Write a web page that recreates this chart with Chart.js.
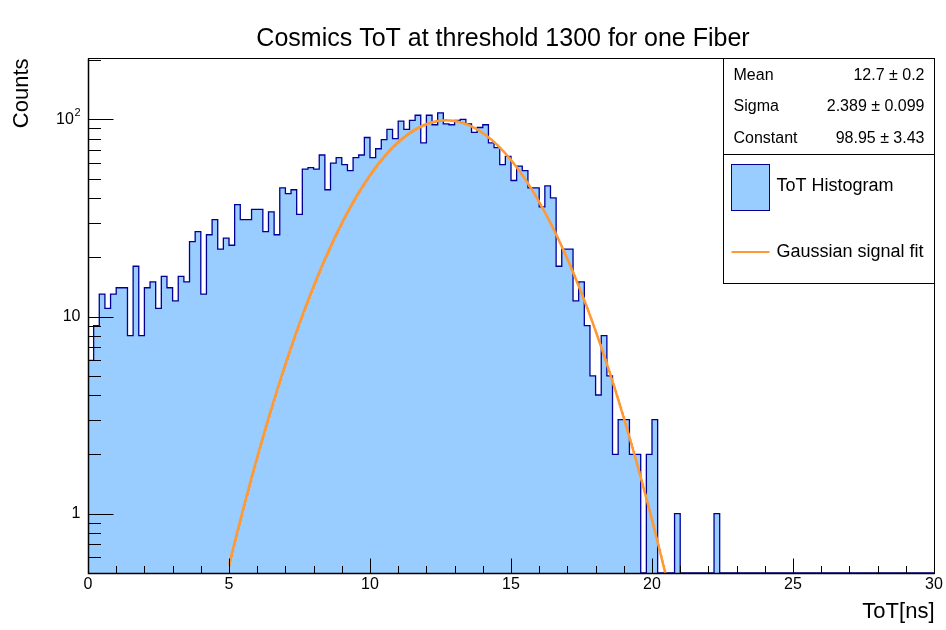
<!DOCTYPE html>
<html>
<head>
<meta charset="utf-8">
<title>Cosmics ToT</title>
<script src="https://cdn.jsdelivr.net/npm/chart.js@4.4.1/dist/chart.umd.min.js"></script>
<style>
  html, body { margin: 0; padding: 0; background: #fff; }
  #totChart { display: block; }
</style>
</head>
<body>
<canvas id="totChart" width="946" height="630"></canvas>
<script>
// ToT histogram: 150 bins of 0.2 ns from 0 to 30 ns
const binLow = 0;
const binWidth = 0.2;
const binCounts = [
    6, 9, 13, 11, 13, 14, 14, 8, 18, 8,
    14, 15, 11, 16, 14, 12, 16, 15, 24, 27,
    13, 26, 31, 22, 25, 23, 37, 31, 31, 35,
    35, 27, 34, 26, 45, 42, 44, 33, 56, 57,
    56, 66, 44, 60, 64, 59, 55, 64, 66, 81,
    64, 71, 79, 89, 80, 98, 89, 99, 105, 76,
    105, 94, 108, 95, 94, 99, 100, 95, 86, 91,
    94, 76, 72, 59, 65, 49, 58, 55, 45, 45,
    36, 46, 40, 18, 22, 22, 12, 15, 9, 5,
    4, 8, 5, 2, 3, 3, 2, 2, 0, 2,
    3, 0, 0, 0, 1, 0, 0, 0, 0, 0,
    0, 1, 0, 0, 0, 0, 0, 0, 0, 0,
    0, 0, 0, 0, 0, 0, 0, 0, 0, 0,
    0, 0, 0, 0, 0, 0, 0, 0, 0, 0,
    0, 0, 0, 0, 0, 0, 0, 0, 0, 0
];

// gaussian fit result
const fitConstant = 98.95;
const fitMean = 12.7;
const fitSigma = 2.389;
const fitRange = [5, 21];

const statNames = ['Mean', 'Sigma', 'Constant'];
const statValues = ['12.7 \u00b1 0.2', '2.389 \u00b1 0.099', '98.95 \u00b1 3.43'];

const xMin = 0, xMax = 30;
const yMin = 0.5, yMax = 205;
const xTicks = [0, 5, 10, 15, 20, 25, 30];
const yTicks = [1, 10, 100];
const yTickLabels = ['1', '10', '10^2'];

const histFill = 'rgb(153, 204, 255)';
const histLine = 'rgb(0, 0, 153)';
const fitColor = 'rgb(255, 153, 51)';
const FONT = "'Liberation Sans', Arial, Helvetica, sans-serif";

// empty bins sit on the bottom of the log axis
const histPoints = binCounts.map((c, i) => ({ x: binLow + i * binWidth, y: Math.max(c, yMin) }));
histPoints.push({ x: binLow + binCounts.length * binWidth, y: Math.max(binCounts[binCounts.length - 1], yMin) });

const fitPoints = [];
for (let i = 0; fitRange[0] + i * 0.02 <= fitRange[1] + 1e-9; i++) {
    const x = fitRange[0] + i * 0.02;
    fitPoints.push({ x: x, y: fitConstant * Math.exp(-0.5 * Math.pow((x - fitMean) / fitSigma, 2)) });
}

// frame, inward ticks, labels, stats box and legend
const rootFrame = {
    id: 'rootFrame',
    afterDraw(chart) {
        const ctx = chart.ctx;
        const area = chart.chartArea;
        const xs = chart.scales.x;
        const ys = chart.scales.y;
        const L = Math.round(area.left) + 0.5;
        const R = Math.round(area.right) + 0.5;
        const T = Math.round(area.top) + 0.5;
        const B = Math.round(area.bottom) + 0.5;
        ctx.save();

        ctx.strokeStyle = '#000';
        ctx.lineWidth = 1;
        ctx.strokeRect(L, T, R - L, B - T);
        ctx.lineWidth = 1.5;
        ctx.beginPath();
        ctx.moveTo(L, T); ctx.lineTo(L, B); ctx.lineTo(R, B);
        ctx.stroke();

        // x ticks
        ctx.lineWidth = 1;
        ctx.beginPath();
        for (let v = xMin; v <= xMax; v++) {
            const px = Math.round(xs.getPixelForValue(v)) + 0.5;
            const len = v % 5 === 0 ? 15 : 7.5;
            ctx.moveTo(px, B); ctx.lineTo(px, B - len);
        }
        // y ticks, log decades
        for (let d = -1; d <= 2; d++) {
            for (let m = 1; m <= 9; m++) {
                const v = m * Math.pow(10, d);
                if (v <= yMin || v > yMax) continue;
                const py = Math.round(ys.getPixelForValue(v)) + 0.5;
                const len = m === 1 ? 25 : 12.5;
                ctx.moveTo(L, py); ctx.lineTo(L + len, py);
            }
        }
        ctx.stroke();

        // tick labels
        ctx.fillStyle = '#000';
        ctx.font = '16px ' + FONT;
        ctx.textAlign = 'center';
        ctx.textBaseline = 'middle';
        xTicks.forEach(v => {
            ctx.fillText(String(v), xs.getPixelForValue(v), B + 11);
        });
        ctx.textAlign = 'right';
        yTicks.forEach((v, i) => {
            const py = ys.getPixelForValue(v);
            const parts = yTickLabels[i].split('^');
            let xr = L - 8;
            if (parts.length > 1) {
                ctx.font = '11px ' + FONT;
                ctx.fillText(parts[1], xr, py - 6);
                xr -= ctx.measureText(parts[1]).width + 0.5;
                ctx.font = '16px ' + FONT;
            }
            ctx.fillText(parts[0], xr, py);
        });

        // titles
        ctx.font = '25px ' + FONT;
        ctx.textAlign = 'center';
        ctx.textBaseline = 'alphabetic';
        ctx.fillText('Cosmics ToT at threshold 1300 for one Fiber', 503, 46);
        ctx.font = '22px ' + FONT;
        ctx.textAlign = 'right';
        ctx.fillText('ToT[ns]', R, 618);
        ctx.save();
        ctx.translate(28, T);
        ctx.rotate(-Math.PI / 2);
        ctx.fillText('Counts', 0, 0);
        ctx.restore();

        // stats box
        const bx = R - 211, bw = 211;
        const statH = 96, legH = 129;
        ctx.fillStyle = '#fff';
        ctx.fillRect(bx, T, bw, statH + legH);
        ctx.strokeStyle = '#000';
        ctx.lineWidth = 1;
        ctx.strokeRect(bx, T, bw, statH);
        ctx.strokeRect(bx, T + statH, bw, legH);
        ctx.fillStyle = '#000';
        ctx.font = '16px ' + FONT;
        ctx.textBaseline = 'middle';
        statNames.forEach((name, i) => {
            const py = T + 17 + i * 31.5;
            ctx.textAlign = 'left';
            ctx.fillText(name, bx + 10, py);
            ctx.textAlign = 'right';
            ctx.fillText(statValues[i], R - 10, py);
        });

        // legend entries
        const ds = chart.data.datasets;
        const ly = T + statH;
        ctx.fillStyle = histFill;
        ctx.fillRect(bx + 8, ly + 10, 38, 46);
        ctx.strokeStyle = histLine;
        ctx.strokeRect(bx + 8, ly + 10, 38, 46);
        ctx.strokeStyle = fitColor;
        ctx.lineWidth = 2;
        ctx.beginPath();
        ctx.moveTo(bx + 8, ly + 97.5); ctx.lineTo(bx + 46, ly + 97.5);
        ctx.stroke();
        ctx.fillStyle = '#000';
        ctx.font = '18px ' + FONT;
        ctx.textAlign = 'left';
        ctx.fillText(ds[1].label, bx + 53, ly + 32);
        ctx.fillText(ds[0].label, bx + 53, ly + 98);

        ctx.restore();
    }
};

const ctx = document.getElementById('totChart').getContext('2d');
const totChart = new Chart(ctx, {
    type: 'line',
    data: {
        datasets: [{
            label: 'Gaussian signal fit',
            data: fitPoints,
            borderColor: fitColor,
            borderWidth: 2.5,
            pointRadius: 0,
            fill: false,
            tension: 0,
            order: 1
        }, {
            label: 'ToT Histogram',
            data: histPoints,
            stepped: 'before',
            fill: 'origin',
            backgroundColor: histFill,
            borderColor: histLine,
            borderWidth: 1.3,
            pointRadius: 0,
            order: 2
        }]
    },
    options: {
        responsive: false,
        animation: false,
        devicePixelRatio: 1,
        layout: {
            padding: { left: 88, right: 12, top: 58, bottom: 57 }
        },
        plugins: {
            legend: { display: false },
            tooltip: { enabled: false },
            title: { display: false }
        },
        scales: {
            x: { type: 'linear', min: xMin, max: xMax, display: false },
            y: { type: 'logarithmic', min: yMin, max: yMax, display: false }
        }
    },
    plugins: [rootFrame]
});
</script>
</body>
</html>
